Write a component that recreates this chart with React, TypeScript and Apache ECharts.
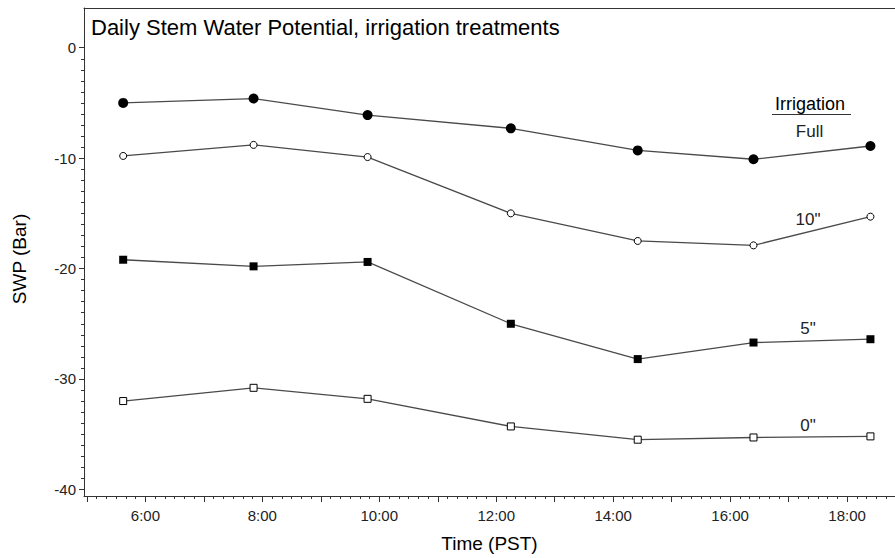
import { useEffect, useRef } from 'react'
import * as echarts from 'echarts'

// ── Data (time in decimal hours, PST; SWP in bar) ─────────────────────────────

const times = [5.62, 7.85, 9.8, 12.25, 14.42, 16.4, 18.4]

const fullVals = [-5.0, -4.6, -6.1, -7.3, -9.3, -10.1, -8.9]
const tenVals = [-9.8, -8.8, -9.9, -15.0, -17.5, -17.9, -15.3]
const fiveVals = [-19.2, -19.8, -19.4, -25.0, -28.2, -26.7, -26.4]
const zeroVals = [-32.0, -30.8, -31.8, -34.3, -35.5, -35.3, -35.2]

const hourTicks = [5, 6, 7, 8, 9, 10, 11, 12, 13, 14, 15, 16, 17, 18]
const hourLabels = [6, 8, 10, 12, 14, 16, 18]
const yLabels = [0, -10, -20, -30, -40]

const X_MIN = 4.95
const X_MAX = 18.82
const Y_MIN = -40.6
const Y_MAX = 3.6

// 10-minute minor ticks (excluding whole hours)
const minorX: number[] = []
for (let h = 4; h < 19; h++) {
  for (let k = 1; k < 6; k++) {
    const v = h + k / 6
    if (v > X_MIN && v < X_MAX) minorX.push(v)
  }
}
// 1-bar minor ticks on the y axis
const minorY: number[] = []
for (let v = -39; v < 0; v++) {
  if (v % 10 !== 0) minorY.push(v)
}

const pair = (vals: number[]) => times.map((t, i) => [t, vals[i]])

const LINE = '#4a4a4a'
const AXIS = '#333'
const INK = '#222'
const FONT = '"Liberation Sans", Arial, sans-serif'

export default function App() {
  const ref = useRef<HTMLDivElement>(null)

  useEffect(() => {
    if (!ref.current) return
    const chart = echarts.init(ref.current, null, { renderer: 'svg' })

    const rect = { left: 84, top: 8, width: 811, height: 488 }
    const baseX = {
      type: 'value' as const,
      min: X_MIN,
      max: X_MAX,
      splitLine: { show: false },
    }
    const baseY = {
      type: 'value' as const,
      min: Y_MIN,
      max: Y_MAX,
      splitLine: { show: false },
    }
    const hidden = {
      axisLine: { show: false, onZero: false },
      axisTick: { show: false },
      axisLabel: { show: false },
    }

    chart.setOption({
      animation: false,
      backgroundColor: '#fff',
      // grid 0: data + major ticks; grid 1: minor ticks; grid 2: top frame line
      grid: [rect, rect, rect],
      xAxis: [
        {
          ...baseX,
          gridIndex: 0,
          position: 'bottom',
          axisLine: { show: true, onZero: false, lineStyle: { color: AXIS, width: 1 } },
          axisTick: {
            show: true,
            customValues: hourTicks,
            length: 6,
            lineStyle: { color: AXIS, width: 1 },
          },
          axisLabel: {
            customValues: hourLabels,
            formatter: (v: number) => `${v}:00`,
            color: INK,
            fontFamily: FONT,
            fontSize: 15,
            margin: 12,
          },
          name: 'Time (PST)',
          nameLocation: 'middle',
          nameGap: 38,
          nameTextStyle: { color: '#000', fontFamily: FONT, fontSize: 19 },
        },
        {
          ...baseX,
          gridIndex: 1,
          position: 'bottom',
          axisLine: { show: false, onZero: false },
          axisTick: {
            show: true,
            customValues: minorX,
            length: 3,
            lineStyle: { color: AXIS, width: 1 },
          },
          axisLabel: { show: false },
        },
        {
          ...baseX,
          gridIndex: 2,
          position: 'top',
          axisLine: { show: true, onZero: false, lineStyle: { color: AXIS, width: 1 } },
          axisTick: { show: false },
          axisLabel: { show: false },
        },
      ],
      yAxis: [
        {
          ...baseY,
          gridIndex: 0,
          position: 'left',
          axisLine: { show: true, onZero: false, lineStyle: { color: AXIS, width: 1 } },
          axisTick: {
            show: true,
            customValues: yLabels,
            length: 5,
            lineStyle: { color: AXIS, width: 1 },
          },
          axisLabel: {
            customValues: yLabels,
            color: INK,
            fontFamily: FONT,
            fontSize: 15,
            margin: 8,
          },
        },
        {
          ...baseY,
          gridIndex: 1,
          position: 'left',
          axisLine: { show: false, onZero: false },
          axisTick: {
            show: true,
            customValues: minorY,
            length: 3,
            lineStyle: { color: AXIS, width: 1 },
          },
          axisLabel: { show: false },
        },
        { ...baseY, gridIndex: 2, ...hidden },
      ],
      series: [
        {
          name: 'Full',
          type: 'line',
          data: pair(fullVals),
          symbol: 'circle',
          symbolSize: 10,
          itemStyle: { color: '#000' },
          lineStyle: { color: LINE, width: 1.3 },
        },
        {
          name: '10"',
          type: 'line',
          data: pair(tenVals),
          symbol: 'circle',
          symbolSize: 7,
          itemStyle: { color: '#fff', borderColor: '#000', borderWidth: 1 },
          lineStyle: { color: LINE, width: 1.3 },
        },
        {
          name: '5"',
          type: 'line',
          data: pair(fiveVals),
          symbol: 'rect',
          symbolSize: 8,
          itemStyle: { color: '#000' },
          lineStyle: { color: LINE, width: 1.3 },
        },
        {
          name: '0"',
          type: 'line',
          data: pair(zeroVals),
          symbol: 'rect',
          symbolSize: 7,
          itemStyle: { color: '#fff', borderColor: '#000', borderWidth: 1 },
          lineStyle: { color: LINE, width: 1.3 },
        },
      ],
      graphic: [
        {
          type: 'text',
          left: 91,
          top: 16,
          style: {
            text: 'Daily Stem Water Potential, irrigation treatments',
            fill: '#000',
            font: `22px ${FONT}`,
          },
        },
        {
          type: 'text',
          x: 19,
          y: 259,
          rotation: Math.PI / 2,
          style: {
            text: 'SWP (Bar)',
            fill: '#000',
            font: `19px ${FONT}`,
            align: 'center',
            verticalAlign: 'middle',
          },
        },
        {
          type: 'text',
          x: 810,
          y: 104,
          style: {
            text: 'Irrigation',
            fill: '#000',
            font: `18px ${FONT}`,
            align: 'center',
            verticalAlign: 'middle',
          },
        },
        {
          type: 'line',
          shape: { x1: 772, y1: 114.5, x2: 851, y2: 114.5 },
          style: { stroke: AXIS, lineWidth: 1 },
        },
        ...[
          { t: 'Full', x: 809.5, y: 131 },
          { t: '10"', x: 808, y: 219 },
          { t: '5"', x: 808, y: 328 },
          { t: '0"', x: 808, y: 425 },
        ].map((l) => ({
          type: 'text',
          x: l.x,
          y: l.y,
          style: {
            text: l.t,
            fill: INK,
            font: `17px ${FONT}`,
            align: 'center',
            verticalAlign: 'middle',
          },
        })),
      ],
    })

    return () => {
      chart.dispose()
    }
  }, [])

  return (
    <div
      ref={ref}
      style={{ position: 'absolute', left: 0, top: 0, width: 895, height: 558 }}
    />
  )
}
